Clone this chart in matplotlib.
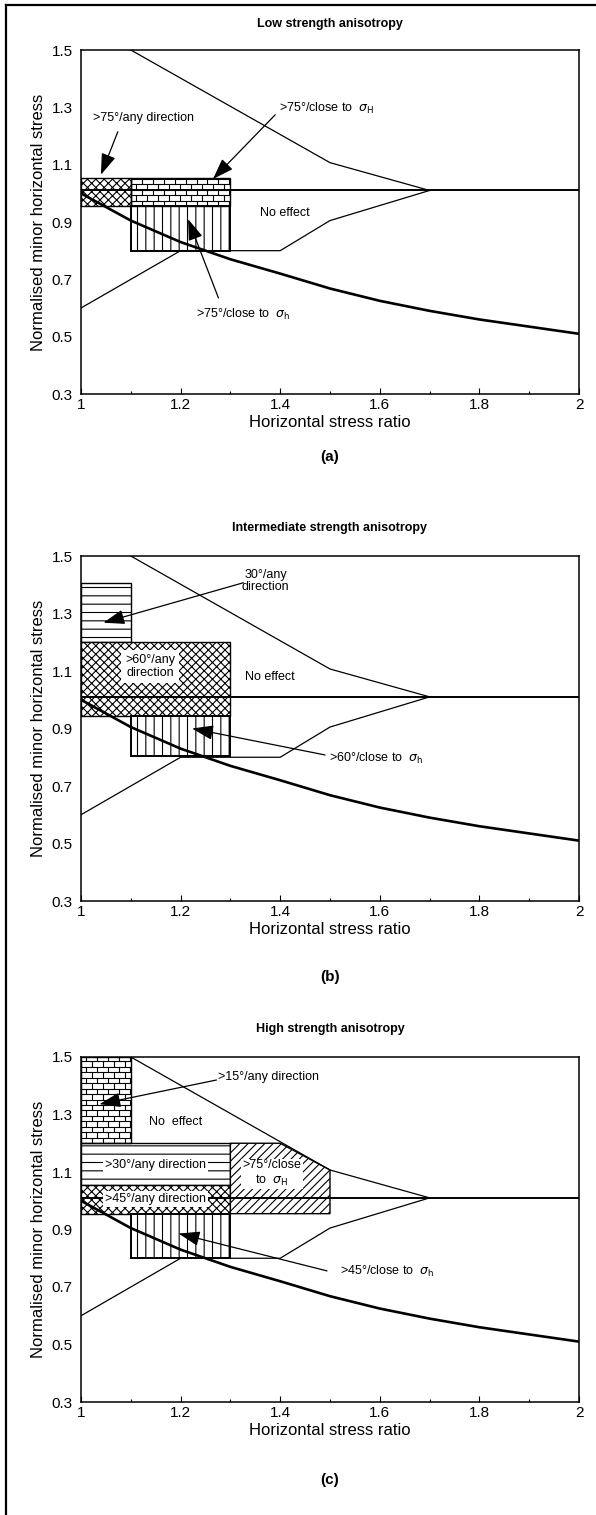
import numpy as np
import matplotlib
matplotlib.use('Agg')
import matplotlib.pyplot as plt
from matplotlib.patches import Rectangle, Polygon
from matplotlib.collections import LineCollection
from matplotlib.lines import Line2D

plt.rcParams['font.family'] = ['Liberation Sans', 'DejaVu Sans']
plt.rcParams['hatch.linewidth'] = 0.8

# common curves (same in all three panels)
ratio = [1.0, 1.1, 1.2, 1.3, 1.4, 1.5, 1.6, 1.7, 1.8, 1.9, 2.0]
sigma_min = [1.0, 0.905, 0.83, 0.77, 0.72, 0.668, 0.625, 0.59, 0.56, 0.535, 0.51]
upper_x = [1.1, 1.5, 1.7]
upper_y = [1.5, 1.107, 1.01]
lower_x = [1.0, 1.2, 1.4, 1.5, 1.7]
lower_y = [0.6, 0.8, 0.8, 0.905, 1.01]
base_x = [1.0, 2.0]
base_y = [1.01, 1.01]

# panel (a) zones
a_left = [1.0, 1.1, 1.1]
a_right = [1.1, 1.3, 1.3]
a_bottom = [0.955, 0.955, 0.80]
a_top = [1.055, 1.055, 0.955]
a_fill = ['xxxx', 'brick', '||']

# panel (b) zones
b_left = [1.0, 1.0, 1.1]
b_right = [1.1, 1.3, 1.3]
b_bottom = [1.20, 0.945, 0.805]
b_top = [1.405, 1.20, 0.945]
b_fill = ['--', 'xxxx', '||']

# panel (c) zones
c_left = [1.0, 1.0, 1.0, 1.1]
c_right = [1.1, 1.3, 1.3, 1.3]
c_bottom = [1.20, 1.055, 0.955, 0.80]
c_top = [1.50, 1.20, 1.055, 0.955]
c_fill = ['brick', '--', 'xxxx', '||']
c_sigH_x = [1.3, 1.3, 1.4, 1.5, 1.5]
c_sigH_y = [0.955, 1.20, 1.20, 1.107, 0.955]

xticks = [1.0, 1.2, 1.4, 1.6, 1.8, 2.0]
xticklabels = ['1', '1.2', '1.4', '1.6', '1.8', '2']
yticks = [0.3, 0.5, 0.7, 0.9, 1.1, 1.3, 1.5]


def brick(ax, x0, x1, y0, y1, dx=0.022, dy=0.019):
    segs = []
    ys = np.arange(y0, y1 - 1e-6, dy)
    for i, ya in enumerate(ys):
        segs.append([(x0, ya), (x1, ya)])
        yb = min(ya + dy, y1)
        off = 0.0 if i % 2 == 0 else dx / 2
        for xv in np.arange(x0 + off, x1 - 1e-6, dx):
            segs.append([(xv, ya), (xv, yb)])
    ax.add_collection(LineCollection(segs, colors='black', linewidths=0.8, zorder=1))


def zones(ax, left, right, bottom, top, fill):
    for x0, x1, y0, y1, f in zip(left, right, bottom, top, fill):
        lw = 1.4 if f == '||' else 1.0
        if f == 'brick':
            brick(ax, x0, x1, y0, y1)
            ax.add_patch(Rectangle((x0, y0), x1 - x0, y1 - y0, fill=False,
                                   edgecolor='black', lw=lw, zorder=2))
        else:
            ax.add_patch(Rectangle((x0, y0), x1 - x0, y1 - y0, facecolor='white',
                                   edgecolor='black', hatch=f, lw=lw, zorder=1))


def arrow(ax, tail, tip):
    ax.annotate('', xy=tip, xytext=tail,
                arrowprops=dict(arrowstyle='-|>,head_length=1.3,head_width=0.45',
                                color='black', lw=0.9, shrinkA=0, shrinkB=0),
                zorder=6)


def base(ax):
    ax.plot(ratio, sigma_min, color='black', lw=1.9, zorder=3)
    ax.plot(upper_x, upper_y, color='black', lw=0.9, zorder=3)
    ax.plot(lower_x, lower_y, color='black', lw=0.9, zorder=3)
    ax.plot(base_x, base_y, color='black', lw=1.4, zorder=3)
    ax.set_xlim(1, 2)
    ax.set_ylim(0.3, 1.5)
    ax.set_xticks(xticks)
    ax.set_xticklabels(xticklabels)
    ax.set_xticks(np.arange(1.1, 2.0, 0.2), minor=True)
    ax.set_yticks(yticks)
    ax.set_yticklabels([f'{v:.1f}' for v in yticks])
    ax.tick_params(direction='in', length=4, width=0.8, labelsize=11, pad=3)
    ax.tick_params(axis='x', which='minor', direction='in', length=2.5, width=0.8)
    ax.tick_params(axis='y', length=0, pad=6)
    for s in ax.spines.values():
        s.set_linewidth(1.1)
    ax.set_xlabel('Horizontal stress ratio', fontsize=12, labelpad=2)
    ax.set_ylabel('Normalised minor horizontal stress', fontsize=12, labelpad=4)


fig = plt.figure(figsize=(5.96, 15.15), dpi=100)
W, H = 596.0, 1515.0
left, width = 81 / W, 498 / W
tops = [50, 556, 1057]
bottoms = [394, 901, 1402]
axes = [fig.add_axes([left, 1 - b / H, width, (b - t) / H]) for t, b in zip(tops, bottoms)]

tsize = 9
cx = (81 + 579) / 2 / W
fig.text(cx, 1 - 24 / H, 'Low strength anisotropy', ha='center', va='center', fontsize=9, fontweight='bold')
fig.text(cx, 1 - 528 / H, 'Intermediate strength anisotropy', ha='center', va='center', fontsize=9, fontweight='bold')
fig.text(cx, 1 - 1029 / H, 'High strength anisotropy', ha='center', va='center', fontsize=9, fontweight='bold')
fig.text(cx, 1 - 457 / H, '(a)', ha='center', va='center', fontsize=11, fontweight='bold')
fig.text(cx, 1 - 977 / H, '(b)', ha='center', va='center', fontsize=11, fontweight='bold')
fig.text(cx, 1 - 1480 / H, '(c)', ha='center', va='center', fontsize=11, fontweight='bold')

# outer frame (left and top sides visible)
fig.add_artist(Line2D([6 / W, 6 / W], [0, 1 - 5 / H], color='black', lw=1.6))
fig.add_artist(Line2D([6 / W, 1], [1 - 5 / H, 1 - 5 / H], color='black', lw=1.6))

# ---- (a)
ax = axes[0]
zones(ax, a_left, a_right, a_bottom, a_top, a_fill)
base(ax)
ax.text(1.024, 1.263, '>75°/any direction', fontsize=tsize, va='center')
arrow(ax, (1.074, 1.215), (1.04, 1.065))
ax.text(1.398, 1.297, r'>75°/close to  $\sigma_{\rm H}$', fontsize=tsize, va='center')
arrow(ax, (1.39, 1.274), (1.265, 1.05))
ax.text(1.41, 0.933, 'No effect', fontsize=tsize, ha='center', va='center')
ax.text(1.23, 0.577, r'>75°/close to  $\sigma_{\rm h}$', fontsize=tsize, va='center')
arrow(ax, (1.276, 0.635), (1.215, 0.91))

# ---- (b)
ax = axes[1]
zones(ax, b_left, b_right, b_bottom, b_top, b_fill)
base(ax)
ax.text(1.371, 1.413, '30°/any\ndirection', fontsize=tsize, ha='center', va='center',
        linespacing=1.1)
arrow(ax, (1.326, 1.407), (1.045, 1.268))
ax.text(1.139, 1.115, '>60°/any\ndirection', fontsize=tsize, ha='center', va='center',
        linespacing=1.1, zorder=5,
        bbox=dict(facecolor='white', edgecolor='none', pad=3))
ax.text(1.38, 1.08, 'No effect', fontsize=tsize, ha='center', va='center')
ax.text(1.497, 0.797, r'>60°/close to  $\sigma_{\rm h}$', fontsize=tsize, va='center')
arrow(ax, (1.49, 0.808), (1.223, 0.90))

# ---- (c)
ax = axes[2]
zones(ax, c_left, c_right, c_bottom, c_top, c_fill)
ax.add_patch(Polygon(list(zip(c_sigH_x, c_sigH_y)), closed=True, facecolor='white',
                     edgecolor='black', hatch='////', lw=1.0, zorder=1))
base(ax)
ax.text(1.276, 1.431, '>15°/any direction', fontsize=tsize, va='center')
arrow(ax, (1.272, 1.42), (1.037, 1.336))
ax.text(1.19, 1.275, 'No  effect', fontsize=tsize, ha='center', va='center')
ax.text(1.15, 1.124, '>30°/any direction', fontsize=tsize, ha='center', va='center', zorder=5,
        bbox=dict(facecolor='white', edgecolor='none', pad=1.5))
ax.text(1.383, 1.095, '>75°/close\n' + r'to  $\sigma_{\rm H}$', fontsize=tsize, ha='center',
        va='center', linespacing=1.2, zorder=5,
        bbox=dict(facecolor='white', edgecolor='none', pad=1))
ax.text(1.15, 1.006, '>45°/any direction', fontsize=tsize, ha='center', va='center', zorder=5,
        bbox=dict(facecolor='white', edgecolor='none', pad=1.5))
ax.text(1.52, 0.753, r'>45°/close to  $\sigma_{\rm h}$', fontsize=tsize, va='center')
arrow(ax, (1.494, 0.756), (1.196, 0.886))

fig.savefig('out.png', dpi=100)
